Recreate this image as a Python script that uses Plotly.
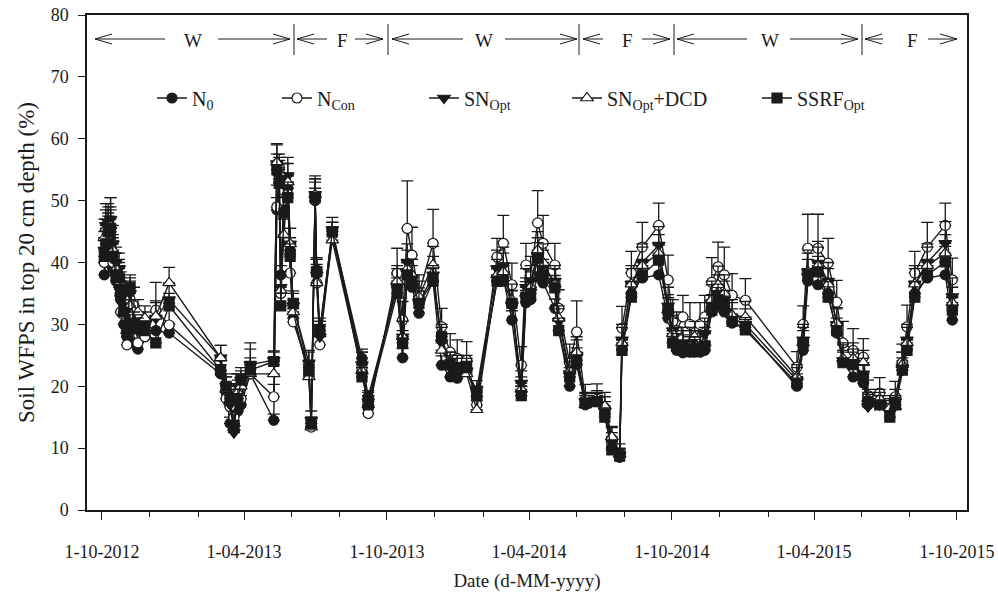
import plotly.graph_objects as go

# ---------------- data ----------------
dates = [
"2012-10-04","2012-10-06","2012-10-09","2012-10-12","2012-10-15","2012-10-19","2012-10-23","2012-10-25","2012-10-29","2012-11-02",
"2012-11-06","2012-11-11","2012-11-16","2012-11-25","2012-12-09","2012-12-26","2013-03-02","2013-03-09","2013-03-14","2013-03-19",
"2013-03-24","2013-03-28","2013-04-09","2013-05-09","2013-05-13","2013-05-16","2013-05-18","2013-05-22","2013-05-27","2013-05-30",
"2013-06-03","2013-06-23","2013-06-26","2013-07-01","2013-07-03","2013-07-07","2013-07-23","2013-08-30","2013-09-07","2013-10-14",
"2013-10-21","2013-10-27","2013-11-02","2013-11-11","2013-11-29","2013-12-10","2013-12-21","2013-12-30","2014-01-11","2014-01-24",
"2014-02-19","2014-02-27","2014-03-10","2014-03-22","2014-03-28","2014-04-03","2014-04-12","2014-04-19","2014-05-04","2014-05-09",
"2014-05-23","2014-06-01","2014-06-12","2014-06-27","2014-07-07","2014-07-16","2014-07-26","2014-07-29","2014-08-10","2014-08-24",
"2014-09-14","2014-09-26","2014-10-02","2014-10-07","2014-10-15","2014-10-24","2014-10-30","2014-11-06","2014-11-12","2014-11-21",
"2014-11-29","2014-12-07","2014-12-17","2015-01-03","2015-03-10","2015-03-18","2015-03-24","2015-04-06","2015-04-19","2015-04-30",
"2015-05-08","2015-05-21","2015-06-03","2015-06-09","2015-06-24","2015-07-07","2015-07-14","2015-07-23","2015-07-29","2015-08-08",
"2015-08-24","2015-09-16","2015-09-25"]

N0 = [38,40,42,44,39,37,36,34,30,28,
      30,27,26,28,29,28.6,22,19,14,13,
      16,17,22,14.5,48.5,53,38,49,52,42,
      31,22,14,50,38.8,29,45,24.5,18.3,36,
      24.6,38,36,31.8,37,23.4,21.5,21.3,22.5,18.3,
      37,37.5,30.7,18.5,33.5,34,37.7,36.7,32.6,29,
      20,23.5,17,17.5,15.5,10,8.5,26,35,37.5,
      38,31,27,25.8,25.4,25.5,25.5,25.5,25.8,32,
      33,32,30.2,29.5,20,25.8,37,36.4,35,28.6,
      24,21.5,20.5,17,17.5,16,17,22.6,26,35,
      37.5,38,30.7]

NCon = [40,42,44,45,40,38,37,32,31.5,26.7,
        34,33,27,28,32.3,29.9,22.5,18,16.7,15,
        19,18,22,18.3,49,53.5,35,50,51,38.3,
        30.4,23,13.4,50.5,36.7,26.7,44.5,23,15.6,38.3,
        30.7,45.5,41.2,35,43.1,29.6,25.5,24.5,24.2,17,
        40.9,43.1,36.4,23.4,39.6,38,46.4,43.1,39.6,32.6,
        23.8,28.8,17.8,17.9,16.5,11.5,9.2,29.4,38.3,42.5,
        46,37.2,30.5,29,31.2,30,26.5,30,31.2,36.8,
        39.3,38,34.7,33.9,23.1,30,42.3,42.3,39.9,33.6,
        27,25.8,24.7,18.5,18.9,16.5,18.3,23.8,29.6,38.3,
        42.5,46,37.2]

SN_Opt = [42,46,46.5,47,43,40,39,36,33,30,
          35,30,29,30,31,34,24.6,20,17,12.5,
          20,21,23.5,24.2,56,54,36,53,54,43,
          33,23.8,14.5,51,38,28,45.3,23.5,17.5,36,
          28,40,37.5,33.4,38,27,23,23,22.5,19.4,
          39,39.5,33,20.5,36,37,41,39,37,30.5,
          22,25,17.5,17.8,16,11,8.9,27.5,36.5,40,
          42.8,33,29,27,27,27,26.5,26.5,28.5,33.4,
          35,34,31,30,21,27.5,38.5,39.9,37,30,
          24.2,23.5,22,16.7,17,16.2,17.5,23,27.5,36.5,
          40,43.1,34.5]

SN_DCD = [44,45.5,45,46,42,39,38,35,32,29,
          33,32,32,31,31.3,36.7,24.6,19.5,17.5,14,
          19,20,22,22,56.2,54.5,35.5,44.5,53,43,
          32,21.5,13.4,51,36.7,28.5,43.6,22.5,17,37,
          28,39,38,34.5,39.6,25.8,23.5,22.5,22,16.2,
          38,38.5,34,19.5,35,36,42,40,36.5,31,
          22.5,25.5,17,17.3,16.8,11.8,9,27,36.5,39.5,
          41.5,32.3,28.5,27,26.5,26.5,28,26.5,27,34,
          36.4,35,31.5,31.2,21.5,27,38.5,39.5,36.5,30.2,
          24.5,24.5,23.8,18,18,16.5,16.7,23.5,27,36.5,
          39.5,41.5,33.5]

SSRF_Opt = [41,43,45,45.5,41,38,37.5,35,32,29,
            36,30,29.5,29,27,33,22.6,20,18,13.5,
            18,21,22.6,24,55,52.8,33,48,50.5,41,
            33.4,22.5,14,50.5,38.5,29,45,21.5,17,35,
            27,38,37,33.4,37,28,23.5,23,23,18.5,
            37,37,33.4,18.5,34.4,35,40.7,38,35.9,29,
            21.5,24.2,17.3,17.5,15,9.7,8.7,25.8,34.4,38,
            40.4,32.3,27,26.5,26.3,26,26,26,26.5,32.3,
            34,33,30.5,29.1,20.5,27,38,38.5,34.4,29,
            23.8,23.5,21.5,17.5,17,15,17,22.6,25.8,34.4,
            38,40.1,32.3]

err_N0 = [2,2,2.5,2,2,2,1.5,2,1.5,1.5,
          2,1.5,1.5,1.5,2,1.5,1.5,1.5,1,1,
          1.5,1.5,1.5,1,2,2,1.5,2,2,2,
          1.5,1.5,1,2,2,1.5,1.5,1.5,1,2,
          1.5,2,2,1.5,2,1.5,1.5,1.5,1.5,1,
          2,2,1.5,1.5,2,2,2,2,1.5,1.5,
          1.5,1.5,1,1,1,1,0.5,1.5,2,2,
          2,1.5,1.5,1.5,1.5,1.5,1.5,1.5,1.5,2,
          2,2,1.5,1.5,1.5,1.5,2,2,2,1.5,
          1.5,1.5,1.5,1,1,1,1,1.5,1.5,2,
          2,2,2]

err_NCon = [4,5,5,5.5,4,3.5,3,3,3,2.5,
            3,3,3,3,4.5,3.5,2.5,2.5,2,2,
            3,3,5,2,3.5,3,3,3,3.5,3,
            3,2.5,1.5,3,3,3,2,2.5,2,4,
            3,7.7,4.5,3,5.5,3,3,3,3,2,
            3,4.5,3.5,3,3.5,3,5.2,4.5,3.5,3,
            3,5,2.5,2.5,2.5,2,1.5,3.5,3.5,4,
            3.6,4,3.5,3,3.5,3.5,3.5,3.5,3.5,4,
            4,4.5,3.5,3.5,2.5,3,5.5,5.5,4,3.5,
            3.5,3.5,3,2.5,2.5,2,2.5,3,3.5,3.5,
            4,3.6,3.5]

err_SN = [3,3.5,3,3.5,3,2.5,2.5,2.5,2,2,
          2.5,2,2,2,2.5,2.5,2,2,1.5,1.5,
          2,2,2.5,1.5,3,3,2.5,3,3,2.5,
          2,2,1.5,3,2.5,2,2,2,1.5,3,
          2.5,3,3,2.5,3,2.5,2,2,2,1.5,
          3,3,2.5,2,3,2.5,3,3,2.5,2,
          2,2.5,1.5,1.5,1.5,1.5,1,2.5,3,3,
          3,3,2.5,2.5,2.5,2.5,2.5,2.5,2.5,3,
          3,3,2.5,2.5,2,2.5,3.5,3.5,3,2.5,
          2.5,2.5,2.5,2,2,1.5,2,2.5,2.5,3,
          3,3.5,3]

err_DCD = [3,3,3,3,2.5,2.5,2.5,2,2,2,
           2.5,2,2,2,2.5,2.5,2,2,1.5,1.5,
           2,2,2,1.5,3,3,2.5,2.5,3,2.5,
           2,2,1.5,2.5,2.5,2,2,2,1.5,2.5,
           2.5,3,2.5,2.5,3,2.5,2,2,2,1.5,
           2.5,3,2.5,2,2.5,2.5,3,3,2.5,2,
           2,2.5,1.5,1.5,1.5,1.5,1,2.5,2.5,3,
           3,2.5,2.5,2.5,2.5,2.5,2.5,2.5,2.5,3,
           3,3,2.5,2.5,2,2.5,3,3,2.5,2.5,
           2.5,2.5,2,1.5,1.5,1.5,1.5,2,2.5,2.5,
           3,3,2.5]

err_SSRF = [2.5,3,2.5,3,2.5,2,2,2,2,1.5,
            2,2,1.5,1.5,2,2,1.5,1.5,1.5,1,
            1.5,1.5,2,1.5,2.5,2.5,2,2.5,2.5,2,
            2,1.5,1,2.5,2,2,1.5,1.5,1.5,2.5,
            2,2.5,2.5,2,2.5,2,2,2,2,1.5,
            2.5,2.5,2,1.5,2.5,2,2.5,2.5,2,2,
            1.5,2,1.5,1.5,1.5,1,1,2,2.5,2.5,
            2.5,2,2,2,2,2,2,2,2,2.5,
            2.5,2.5,2,2,1.5,2,2.5,2.5,2.5,2,
            2,2,2,1.5,1.5,1,1.5,2,2,2.5,
            2.5,2.5,2]

series_names = ["N<sub>0</sub>", "N<sub>Con</sub>", "SN<sub>Opt</sub>",
                "SN<sub>Opt</sub>+DCD", "SSRF<sub>Opt</sub>"]

tick_vals = ["2012-10-01", "2013-04-01", "2013-10-01", "2014-04-01",
             "2014-10-01", "2015-04-01", "2015-10-01"]
tick_text = ["1-10-2012", "1-04-2013", "1-10-2013", "1-04-2014",
             "1-10-2014", "1-04-2015", "1-10-2015"]
minor_vals = ["2012-12-01", "2013-02-01", "2013-06-01", "2013-08-01",
              "2013-12-01", "2014-02-01", "2014-06-01", "2014-08-01",
              "2014-12-01", "2015-02-01", "2015-06-01", "2015-08-01"]

season_labels = ["W", "F", "W", "F", "W", "F"]

# ---------------- figure ----------------
W, H = 998, 596
ML, MR, MT, MB = 87, 31, 15, 86
PW, PH = W - ML - MR, H - MT - MB
FONT = "Liberation Serif"
INK = "#1a1a1a"

def px_x(x):
    return (x - ML) / PW

def px_y(y):
    return (H - MB - y) / PH

styles = [
    dict(symbol="circle", color=INK, size=10),
    dict(symbol="circle", color="white", size=10),
    dict(symbol="triangle-down", color=INK, size=11),
    dict(symbol="triangle-up", color="white", size=11),
    dict(symbol="square", color=INK, size=10),
]
values = [N0, NCon, SN_Opt, SN_DCD, SSRF_Opt]
errors = [err_N0, err_NCon, err_SN, err_DCD, err_SSRF]

fig = go.Figure()
legend_ids = ["legend", "legend2", "legend3", "legend4", "legend5"]
for name, vals, err, st, lg in zip(series_names, values, errors, styles, legend_ids):
    fig.add_trace(go.Scatter(
        x=dates, y=vals, name=name, mode="lines+markers",
        line=dict(color=INK, width=1.4),
        marker=dict(symbol=st["symbol"], size=st["size"], color=st["color"],
                    line=dict(color=INK, width=1.2)),
        error_y=dict(type="data", symmetric=False, array=err,
                     arrayminus=[0] * len(err), color=INK, thickness=1.3, width=6),
        legend=lg, showlegend=True,
    ))

# legends: one per series, placed in a row
leg_marker_px = [173, 298, 445, 588, 778]
layout_legends = {}
for lg, mx in zip(legend_ids, leg_marker_px):
    layout_legends[lg] = dict(
        x=px_x(mx - 21), xanchor="left", y=px_y(98), yanchor="middle",
        bgcolor="rgba(0,0,0,0)", borderwidth=0,
        font=dict(family=FONT, size=20, color=INK),
        itemclick=False, itemdoubleclick=False,
    )

# header: season arrows
row_y = 39
spans = [(95, 165, 193, 218, 290), (297, 327, 342, 355, 383),
         (392, 463, 484, 505, 577), (583, 603, 627, 642, 670),
         (677, 747, 770, 790, 858), (865, 883, 912, 928, 957)]
separators = [294, 388, 579, 674, 862]
shapes = []
annotations = []
line_style = dict(color=INK, width=1)
for (lt, le, cx, rs, rt), lab in zip(spans, season_labels):
    shapes.append(dict(type="line", xref="paper", yref="paper",
                       x0=px_x(lt), x1=px_x(le), y0=px_y(row_y), y1=px_y(row_y), line=line_style))
    for dy in (-5, 5):
        shapes.append(dict(type="line", xref="paper", yref="paper",
                           x0=px_x(lt), x1=px_x(lt + 17), y0=px_y(row_y), y1=px_y(row_y + dy),
                           line=line_style))
    shapes.append(dict(type="line", xref="paper", yref="paper",
                       x0=px_x(rs), x1=px_x(rt), y0=px_y(row_y), y1=px_y(row_y), line=line_style))
    for dy in (-5, 5):
        shapes.append(dict(type="line", xref="paper", yref="paper",
                           x0=px_x(rt), x1=px_x(rt - 17), y0=px_y(row_y), y1=px_y(row_y + dy),
                           line=line_style))
    annotations.append(dict(text=lab, xref="paper", yref="paper", x=px_x(cx), y=px_y(row_y + 1),
                            showarrow=False, xanchor="center", yanchor="middle",
                            font=dict(family=FONT, size=19, color=INK)))
for sx in separators:
    shapes.append(dict(type="line", xref="paper", yref="paper",
                       x0=px_x(sx), x1=px_x(sx), y0=px_y(24), y1=px_y(55), line=line_style))

fig.update_layout(
    width=W, height=H,
    margin=dict(l=ML, r=MR, t=MT, b=MB, autoexpand=False),
    paper_bgcolor="white", plot_bgcolor="white",
    font=dict(family=FONT, size=15, color=INK),
    shapes=shapes, annotations=annotations,
    hovermode=False,
    **layout_legends,
)

fig.update_xaxes(
    type="date", range=["2012-09-11 20:00", "2015-10-13 20:00"],
    tickmode="array", tickvals=tick_vals, ticktext=tick_text,
    ticks="outside", ticklen=8, tickwidth=1.2, tickcolor=INK,
    minor=dict(tickmode="array", tickvals=minor_vals, ticks="outside",
               ticklen=5, tickwidth=1.2, tickcolor=INK, showgrid=False),
    showline=True, linecolor=INK, linewidth=1.5, mirror=True,
    showgrid=False, zeroline=False, automargin=False,
    ticklabelstandoff=17,
    tickfont=dict(family=FONT, size=18, color=INK),
    title=dict(text="Date (d-MM-yyyy)", font=dict(family=FONT, size=19, color=INK), standoff=12),
)
fig.update_yaxes(
    range=[0, 80], tickmode="linear", tick0=0, dtick=10,
    ticks="outside", ticklen=7, tickwidth=1.2, tickcolor=INK,
    showline=True, linecolor=INK, linewidth=1.5, mirror=True,
    showgrid=False, zeroline=False, automargin=False,
    ticklabelstandoff=6,
    tickfont=dict(family=FONT, size=18, color=INK),
    title=dict(text="Soil WFPS in top 20 cm depth (%)",
               font=dict(family=FONT, size=23, color=INK), standoff=10),
)

fig.write_html("out.html",
               config={"displayModeBar": False, "staticPlot": False},
               post_script="document.body.style.margin='0';document.body.style.overflow='hidden';")
